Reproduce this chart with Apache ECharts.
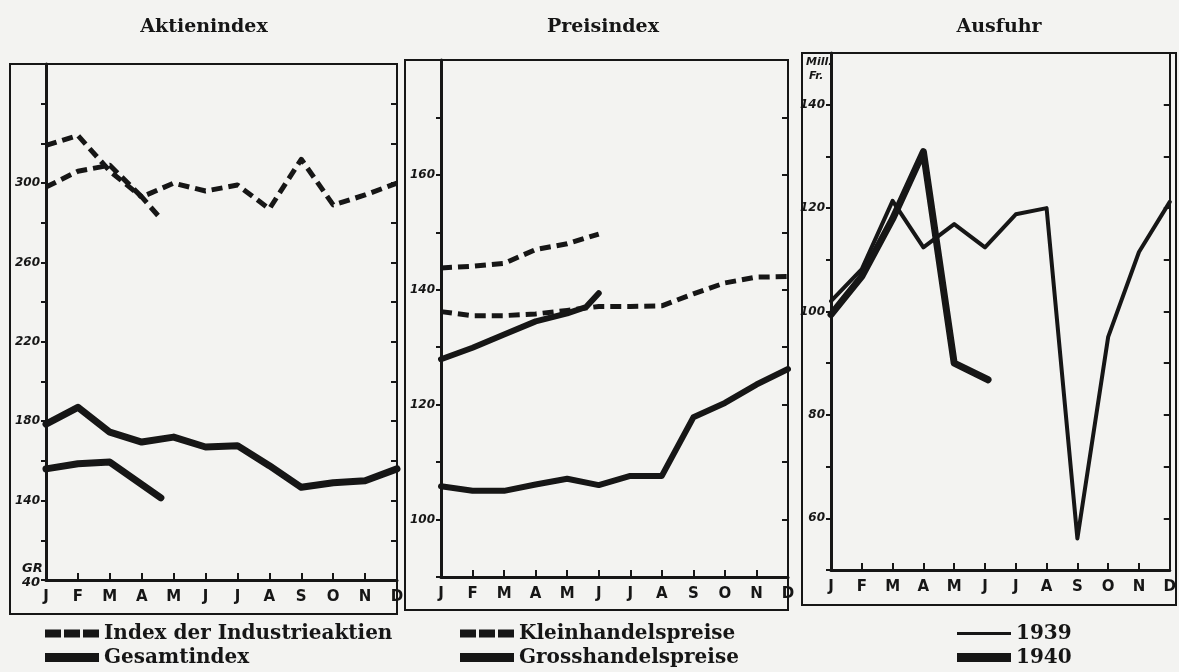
<!DOCTYPE html>
<html>
<head>
<meta charset="utf-8">
<script src="https://cdn.jsdelivr.net/npm/echarts@6/dist/echarts.min.js"></script>
<style>
  html, body { margin: 0; padding: 0; background: #f3f3f1; }
  #chart { width: 1179px; height: 672px; }
</style>
</head>
<body>
<div id="chart"></div>
<script>
const months = ['J', 'F', 'M', 'A', 'M', 'J', 'J', 'A', 'S', 'O', 'N', 'D'];
const monthPos = [0, 1, 2, 3, 4, 5, 6, 7, 8, 9, 10, 11];

// Aktienindex
const aktienLabels = [140, 180, 220, 260, 300];
const industrie1939 = [298, 306, 309, 293, 300, 296, 299, 287, 312, 289, 294, 300];
const industrie1940Pos = [0, 1, 2, 3, 3.6];
const industrie1940 = [319, 324, 306, 293, 282];
const gesamt1939 = [178.5, 187, 174.5, 169.5, 172, 167, 167.7, 157.6, 146.7, 149, 150, 156];
const gesamt1940Pos = [0, 1, 2, 3.6];
const gesamt1940 = [156, 158.6, 159.4, 141.4];

// Preisindex
const preisLabels = [100, 120, 140, 160];
const klein1939 = [136.2, 135.5, 135.5, 135.8, 136.4, 137.1, 137.1, 137.2, 139.3, 141.2, 142.2, 142.3];
const klein1940Pos = [0, 1, 2, 3, 4, 5];
const klein1940 = [143.8, 144.1, 144.6, 147, 148, 149.7];
const gross1939 = [105.8, 105, 105, 106.1, 107.1, 106, 107.6, 107.6, 117.8, 120.3, 123.5, 126.2];
const gross1940Pos = [0, 1, 2, 3, 4, 4.6, 5];
const gross1940 = [127.9, 129.9, 132.2, 134.5, 135.9, 137, 139.4];

// Ausfuhr (Mill. Fr.)
const ausfuhrLabels = [60, 80, 100, 120, 140];
const ausfuhr1939 = [102, 108.2, 121.4, 112.4, 116.9, 112.4, 118.8, 120, 56.1, 95.1, 111.5, 121.2];
const ausfuhr1940Pos = [0, 1, 2, 3, 4, 5.1];
const ausfuhr1940 = [99.4, 106.8, 117.9, 130.9, 90, 86.8];

const ink = '#161616';
const dashIcon = 'path://M0,0h16v8h-16zM19,0h16v8h-16zM38,0h16v8h-16z';
const barIcon = 'path://M0,0h54v9h-54z';
const thinIcon = 'path://M0,0h54v3h-54z';

const panels = [
    { grid: { left: 46, top: 64, width: 351, height: 516 }, box: [10, 64, 387, 550],
      min: 100, max: 360, interval: 20, labels: aktienLabels, title: 'Aktienindex', titleX: 199 },
    { grid: { left: 441, top: 60, width: 347, height: 517 }, box: [405, 60, 383, 550],
      min: 90, max: 180, interval: 10, labels: preisLabels, title: 'Preisindex', titleX: 598 },
    { grid: { left: 831, top: 53, width: 345, height: 517 }, box: [802, 53, 374, 552],
      min: 50, max: 150, interval: 10, labels: ausfuhrLabels, title: 'Ausfuhr', titleX: 994 }
];

function pairs(pos, values) {
    return values.map((v, i) => [pos[i], v]);
}

function xAxisFor(i) {
    return {
        type: 'value',
        gridIndex: i,
        min: 0,
        max: 11,
        interval: 1,
        axisLine: { onZero: false, lineStyle: { color: ink, width: 3 } },
        axisTick: { inside: true, length: 7, lineStyle: { color: ink, width: 2 } },
        axisLabel: {
            formatter: v => months[v] || '',
            margin: 10,
            color: ink,
            fontFamily: 'DejaVu Sans',
            fontWeight: 'bold',
            fontSize: 15
        },
        splitLine: { show: false }
    };
}

function yAxesFor(i) {
    let p = panels[i];
    let base = {
        type: 'value',
        gridIndex: i,
        min: p.min,
        max: p.max,
        interval: p.interval,
        splitLine: { show: false }
    };
    return [
        Object.assign({}, base, {
            position: 'left',
            axisLine: { show: true, onZero: false, lineStyle: { color: ink, width: 3 } },
            axisTick: { show: true, length: 5, lineStyle: { color: ink, width: 2 } },
            axisLabel: {
                formatter: v => p.labels.includes(v) ? String(v) : '',
                margin: 6,
                color: ink,
                fontFamily: 'DejaVu Sans',
                fontWeight: 'bold',
                fontStyle: 'italic',
                fontSize: 12
            }
        }),
        Object.assign({}, base, {
            position: 'right',
            axisLine: { show: true, onZero: false, lineStyle: { color: ink, width: 2 } },
            axisTick: { show: true, inside: true, length: 6, lineStyle: { color: ink, width: 2 } },
            axisLabel: { show: false }
        })
    ];
}

function line(name, i, pos, values, width, dashed) {
    return {
        name: name,
        type: 'line',
        xAxisIndex: i,
        yAxisIndex: i * 2,
        data: pairs(pos, values),
        symbol: 'none',
        color: ink,
        lineStyle: {
            color: ink,
            width: width,
            type: dashed ? [11, 6] : 'solid',
            join: 'round',
            cap: dashed ? 'butt' : 'round'
        },
        z: 3
    };
}

function legendFor(left, items) {
    return {
        left: left,
        top: 623,
        orient: 'vertical',
        padding: 0,
        itemGap: 3,
        itemWidth: 54,
        itemHeight: 9,
        selectedMode: false,
        itemStyle: { color: ink, borderWidth: 0 },
        textStyle: { color: ink, fontFamily: 'DejaVu Serif', fontWeight: 'bold', fontSize: 20, lineHeight: 21 },
        data: items
    };
}

let yAxes = [];
panels.forEach((p, i) => { yAxes = yAxes.concat(yAxesFor(i)); });

let labelFont = { fill: ink, fontFamily: 'DejaVu Sans', fontWeight: 'bold', fontStyle: 'italic' };

let option = {
    backgroundColor: '#f3f3f1',
    animation: false,
    title: panels.map(p => ({
        text: p.title,
        left: p.titleX,
        top: 13,
        textAlign: 'center',
        textStyle: { color: ink, fontFamily: 'DejaVu Serif', fontWeight: 'bold', fontSize: 19 }
    })),
    grid: panels.map(p => p.grid),
    xAxis: panels.map((p, i) => xAxisFor(i)),
    yAxis: yAxes,
    legend: [
        legendFor(45, [
            { name: 'Index der Industrieaktien', icon: dashIcon },
            { name: 'Gesamtindex', icon: barIcon }
        ]),
        legendFor(460, [
            { name: 'Kleinhandelspreise', icon: dashIcon },
            { name: 'Grosshandelspreise', icon: barIcon }
        ]),
        legendFor(957, [
            { name: '1939', icon: thinIcon },
            { name: '1940', icon: barIcon }
        ])
    ],
    graphic: panels.map(p => ({
        type: 'rect',
        shape: { x: p.box[0], y: p.box[1], width: p.box[2], height: p.box[3] },
        style: { fill: null, stroke: ink, lineWidth: 2 },
        z: 1
    })).concat([
        { type: 'text', left: 22, top: 562, style: Object.assign({ text: 'GR', fontSize: 13 }, labelFont) },
        { type: 'text', left: 22, top: 576, style: Object.assign({ text: '40', fontSize: 13 }, labelFont) },
        { type: 'text', left: 806, top: 57, style: Object.assign({ text: 'Mill.', fontSize: 11 }, labelFont) },
        { type: 'text', left: 809, top: 71, style: Object.assign({ text: 'Fr.', fontSize: 11 }, labelFont) }
    ]),
    series: [
        line('Index der Industrieaktien', 0, monthPos, industrie1939, 5, true),
        line('Index der Industrieaktien', 0, industrie1940Pos, industrie1940, 5, true),
        line('Gesamtindex', 0, monthPos, gesamt1939, 7, false),
        line('Gesamtindex', 0, gesamt1940Pos, gesamt1940, 7, false),
        line('Kleinhandelspreise', 1, monthPos, klein1939, 5, true),
        line('Kleinhandelspreise', 1, klein1940Pos, klein1940, 5, true),
        line('Grosshandelspreise', 1, monthPos, gross1939, 6, false),
        line('Grosshandelspreise', 1, gross1940Pos, gross1940, 6, false),
        line('1939', 2, monthPos, ausfuhr1939, 4, false),
        line('1940', 2, ausfuhr1940Pos, ausfuhr1940, 7, false)
    ]
};

let chart = echarts.init(document.getElementById('chart'));
chart.setOption(option);
</script>
</body>
</html>
